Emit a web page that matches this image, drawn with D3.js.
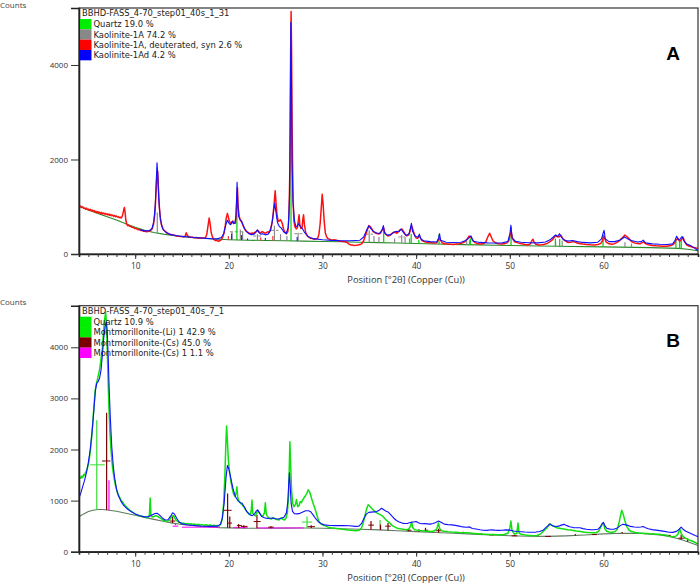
<!DOCTYPE html>
<html><head><meta charset="utf-8">
<script src="https://cdn.jsdelivr.net/npm/d3@7"></script>
<style>body{margin:0;background:#fff}svg{display:block}text{font-family:"Open Sans","Noto Sans",sans-serif}</style>
</head><body><svg id="c" width="700" height="583"></svg>
<script>
// ---------- DATA ----------
const xLabelTicks = [10, 20, 30, 40, 50, 60];
const yTicksA = [0, 2000, 4000];
const yTicksB = [0, 1000, 2000, 3000, 4000];
const titleA = "BBHD-FASS_4-70_step01_40s_1_31";
const titleB = "BBHD-FASS_4-70_step01_40s_7_1";
const legendA = ["Quartz 19.0 %", "Kaolinite-1A 74.2 %", "Kaolinite-1A, deuterated, syn 2.6 %", "Kaolinite-1Ad 4.2 %"];
const legendColorsA = ["#00ee00", "#888888", "#ff0000", "#0000ff"];
const legendB = ["Quartz 10.9 %", "Montmorillonite-(Li) 1 42.9 %", "Montmorillonite-(Cs) 45.0 %", "Montmorillonite-(Cs) 1 1.1 %"];
const legendColorsB = ["#00ee00", "#00ee00", "#7a0000", "#ff00ff"];

// Panel A: background, observed (red), calculated (blue)
const bgA = [[4,1010],[5,930],[6,860],[7,790],[8,720],[9,640],[10,565],[11,500],[12,455],[13,420],[14,392],[15,370],[16,352],[17,336],[18,322],[19,311],[20,302],[22,292],[24,286],[26,280],[28,272],[30,265],[32,258],[34,250],[36,240],[38,232],[40,222],[42,212],[45,198],[50,180],[55,165],[60,150],[65,135],[68,118],[69,100],[70.1,70]];
const obsA = [[4.0,1040],[4.1,1000],[4.2,1010],[4.3,985],[4.4,1000],[4.5,965],[4.6,975],[4.7,950],[4.8,970],[4.9,940],[5.0,950],[5.1,925],[5.2,945],[5.3,915],[5.4,930],[5.5,905],[5.6,920],[5.7,890],[5.8,905],[5.9,880],[6.0,900],[6.1,870],[6.2,885],[6.3,860],[6.4,880],[6.5,850],[6.6,865],[6.7,845],[6.8,860],[6.9,835],[7.0,850],[7.1,825],[7.2,845],[7.3,815],[7.4,835],[7.5,810],[7.6,825],[7.7,800],[7.8,815],[7.9,790],[8.0,805],[8.1,780],[8.2,790],[8.3,770],[8.4,780],[8.5,760],[8.6,790],[8.7,860],[8.78,940],[8.85,985],[8.92,880],[9.0,720],[9.1,630],[9.2,600],[9.3,610],[9.4,585],[9.5,590],[9.65,565],[9.8,560],[10.0,540],[10.15,535],[10.3,515],[10.45,520],[10.6,498],[10.75,500],[10.9,480],[11.05,485],[11.2,470],[11.35,478],[11.5,480],[11.65,500],[11.8,530],[11.95,620],[12.1,850],[12.2,1200],[12.3,1600],[12.4,1750],[12.48,1400],[12.58,1000],[12.7,720],[12.85,590],[13.0,520],[13.15,490],[13.3,460],[13.45,445],[13.6,425],[13.8,415],[14.0,400],[14.2,395],[14.4,380],[14.6,378],[14.8,368],[15.0,370],[15.2,362],[15.35,380],[15.45,450],[15.55,400],[15.7,365],[15.9,352],[16.1,355],[16.3,342],[16.5,348],[16.7,338],[16.9,342],[17.1,332],[17.3,338],[17.5,345],[17.65,420],[17.78,600],[17.9,760],[18.0,640],[18.12,450],[18.3,330],[18.45,300],[18.6,282],[18.75,290],[18.9,268],[19.05,280],[19.2,305],[19.35,360],[19.5,450],[19.62,600],[19.72,760],[19.85,860],[19.95,780],[20.05,700],[20.2,640],[20.3,660],[20.42,700],[20.55,660],[20.68,650],[20.78,800],[20.86,1150],[20.92,1400],[21.0,980],[21.1,800],[21.2,740],[21.3,700],[21.45,640],[21.6,560],[21.75,510],[21.9,480],[22.05,455],[22.2,440],[22.35,430],[22.5,445],[22.65,435],[22.8,460],[22.95,480],[23.1,500],[23.25,460],[23.4,450],[23.55,475],[23.7,460],[23.85,440],[24.0,450],[24.15,470],[24.3,460],[24.45,520],[24.6,640],[24.72,820],[24.85,1100],[24.95,1340],[25.05,1050],[25.15,820],[25.28,690],[25.4,700],[25.5,725],[25.6,700],[25.72,640],[25.85,520],[26.0,460],[26.15,430],[26.3,470],[26.42,800],[26.52,1800],[26.6,4200],[26.65,5130],[26.7,4300],[26.76,2600],[26.85,1200],[26.95,700],[27.05,580],[27.2,530],[27.32,560],[27.42,700],[27.5,830],[27.58,620],[27.7,540],[27.82,560],[27.92,760],[27.98,830],[28.06,640],[28.2,460],[28.35,390],[28.5,360],[28.7,335],[28.9,330],[29.1,312],[29.3,318],[29.5,335],[29.62,420],[29.75,640],[29.87,980],[29.97,1265],[30.07,1050],[30.18,700],[30.3,450],[30.45,360],[30.6,325],[30.8,310],[31.0,292],[31.2,300],[31.4,298],[31.6,285],[31.8,272],[32.0,270],[32.2,262],[32.4,258],[32.6,250],[32.8,215],[33.0,192],[33.2,188],[33.4,182],[33.6,186],[33.8,192],[34.0,200],[34.2,220],[34.4,280],[34.6,400],[34.8,520],[34.95,600],[35.1,580],[35.25,540],[35.4,480],[35.6,450],[35.8,432],[36.0,425],[36.2,445],[36.4,520],[36.52,560],[36.65,450],[36.8,410],[37.0,380],[37.2,395],[37.4,430],[37.6,460],[37.8,455],[37.95,440],[38.1,470],[38.3,510],[38.5,525],[38.7,460],[38.85,410],[39.0,385],[39.2,400],[39.35,480],[39.5,600],[39.65,520],[39.8,420],[40.0,340],[40.15,330],[40.3,380],[40.45,350],[40.6,290],[40.8,270],[41.0,252],[41.3,245],[41.6,240],[41.9,232],[42.2,240],[42.38,300],[42.5,335],[42.62,290],[42.8,232],[43.1,215],[43.4,210],[43.7,205],[44.0,200],[44.3,210],[44.6,215],[44.9,230],[45.2,260],[45.45,320],[45.65,380],[45.85,355],[46.05,290],[46.3,240],[46.6,215],[46.9,210],[47.2,220],[47.45,260],[47.65,360],[47.85,440],[48.02,360],[48.2,280],[48.5,232],[48.8,215],[49.1,210],[49.4,215],[49.7,235],[49.9,280],[50.05,420],[50.15,480],[50.28,330],[50.5,260],[50.8,240],[51.1,220],[51.4,210],[51.7,198],[52.0,195],[52.2,215],[52.38,290],[52.48,310],[52.6,250],[52.8,205],[53.1,192],[53.4,195],[53.7,205],[54.0,225],[54.3,260],[54.6,310],[54.85,385],[55.05,370],[55.25,360],[55.45,400],[55.65,330],[55.9,280],[56.2,245],[56.5,250],[56.8,262],[57.1,240],[57.4,222],[57.8,210],[58.2,200],[58.6,195],[59.0,192],[59.4,200],[59.7,220],[59.9,280],[60.02,380],[60.15,330],[60.3,250],[60.6,215],[60.9,205],[61.2,220],[61.5,250],[61.8,300],[62.05,350],[62.3,400],[62.5,370],[62.75,320],[63.0,265],[63.3,235],[63.6,220],[63.9,215],[64.1,235],[64.3,255],[64.5,220],[64.8,195],[65.2,182],[65.6,175],[66.0,170],[66.4,165],[66.8,162],[67.2,178],[67.5,210],[67.75,290],[67.95,330],[68.15,270],[68.35,310],[68.5,355],[68.7,250],[68.9,190],[69.2,165],[69.5,145],[69.8,132],[70.1,118]];
const calcA = [[10.5,515],[11.0,490],[11.5,492],[11.8,540],[12.0,700],[12.15,1050],[12.25,1550],[12.33,1930],[12.42,1650],[12.52,1150],[12.65,820],[12.8,620],[13.0,510],[13.4,440],[13.8,410],[14.5,385],[15,372],[16,353],[17,338],[18,325],[18.8,320],[19.2,350],[19.45,430],[19.65,600],[19.85,715],[20.05,640],[20.2,620],[20.35,690],[20.5,640],[20.65,660],[20.75,780],[20.82,1150],[20.88,1520],[20.95,1100],[21.05,800],[21.2,720],[21.35,700],[21.55,600],[21.8,490],[22.1,435],[22.4,410],[22.7,420],[22.9,470],[23.05,510],[23.2,460],[23.4,420],[23.6,430],[23.9,405],[24.2,420],[24.45,500],[24.65,700],[24.8,940],[24.9,1075],[25.02,900],[25.2,660],[25.4,580],[25.6,550],[25.85,470],[26.1,430],[26.35,560],[26.48,1200],[26.55,2600],[26.62,4900],[26.68,3900],[26.75,2000],[26.85,1100],[27.0,720],[27.15,580],[27.3,590],[27.45,640],[27.65,580],[27.85,540],[28.1,450],[28.5,365],[29,325],[30,300],[31,288],[32,282],[33,282],[34,292],[34.4,360],[34.7,500],[34.95,594],[35.2,530],[35.5,470],[35.8,445],[36.1,432],[36.35,500],[36.5,600],[36.62,450],[36.9,400],[37.3,410],[37.6,460],[37.9,480],[38.15,470],[38.4,530],[38.65,450],[38.95,390],[39.25,430],[39.4,560],[39.5,650],[39.62,480],[39.9,370],[40.2,360],[40.35,420],[40.5,320],[40.8,280],[41.5,262],[42.2,255],[42.4,340],[42.5,430],[42.62,290],[43.2,250],[44,242],[44.8,250],[45.3,285],[45.6,330],[45.85,385],[46.1,270],[46.8,245],[47.6,235],[48.4,232],[49.2,235],[49.8,265],[50.02,430],[50.12,610],[50.25,340],[50.6,270],[51.2,248],[52.0,238],[53.0,236],[53.8,255],[54.3,300],[54.65,360],[54.9,405],[55.1,370],[55.3,430],[55.5,360],[55.75,300],[56.2,272],[56.7,285],[57.2,262],[57.8,245],[58.6,235],[59.4,250],[59.8,320],[59.98,450],[60.07,500],[60.2,320],[60.6,262],[61.2,262],[61.8,295],[62.25,360],[62.6,320],[63.0,285],[63.6,255],[64.05,262],[64.25,295],[64.5,235],[65.2,215],[66.0,205],[66.8,200],[67.4,215],[67.65,290],[67.82,375],[68.0,300],[68.2,320],[68.4,370],[68.6,280],[68.9,210],[69.3,180],[69.7,130],[70.1,70]];
// stick patterns A: [position, top count]
const sticksQuartzA = [[20.86,1080],[26.64,3050],[36.54,500],[39.47,430],[40.29,300],[42.45,420],[45.79,330],[50.14,570],[54.87,330],[55.33,320],[59.96,410],[67.74,280],[68.14,300],[68.31,290]];
const sticksKaolA = [[12.36,880],[20.34,470],[21.23,520],[21.47,480],[23.05,420],[24.87,600],[25.52,420],[26.2,380],[27.4,450],[34.99,500],[35.5,380],[36.03,360],[37.7,330],[38.46,400],[38.82,360],[39.3,330],[45.4,280],[45.7,290],[54.9,260],[55.6,280],[62.3,250],[63.0,220]];
const sticksKaolAdA = [[20.3,430],[21.36,400],[22.0,330],[23.9,340],[27.3,360]];
const sticksDeutA = [[19.95,380],[23.4,350],[24.7,380]];
const crossA = [[20.1,21.6,470],[24.5,25.3,500],[27.0,27.9,430],[34.6,35.4,420],[38.1,38.8,360],[22.6,23.5,380]];

// Panel B: background, observed (green), calculated (blue)
const bgB = [[4,685],[4.5,740],[5,785],[5.5,812],[6,825],[6.5,825],[7,815],[8,790],[9,752],[10,712],[11,672],[12,632],[13,595],[14,560],[15,532],[16,512],[17,496],[18,483],[19,472],[20,466],[22,460],[24,460],[26,462],[28,465],[30,460],[32,450],[34,440],[36,428],[38,410],[40,392],[42,376],[44,360],[46,344],[48,326],[50,312],[52,302],[54,300],[56,310],[58,328],[60,348],[62,362],[64,358],[66,330],[67,300],[68,255],[69,195],[70.1,120]];
const obsB = [[4.0,1400],[4.1,1460],[4.2,1440],[4.3,1480],[4.4,1450],[4.5,1510],[4.6,1490],[4.7,1550],[4.8,1580],[4.9,1640],[5.0,1700],[5.1,1820],[5.2,1950],[5.3,2150],[5.4,2350],[5.5,2600],[5.6,2850],[5.7,3100],[5.8,3250],[5.9,3320],[6.0,3400],[6.1,3480],[6.2,3560],[6.3,3700],[6.4,3850],[6.5,4000],[6.6,4250],[6.7,4480],[6.78,4600],[6.85,4680],[6.92,4500],[7.0,4050],[7.1,3400],[7.2,2800],[7.3,2350],[7.4,2050],[7.5,1800],[7.6,1620],[7.7,1500],[7.8,1380],[7.9,1300],[8.0,1220],[8.1,1160],[8.2,1110],[8.3,1080],[8.4,1040],[8.5,1000],[8.6,985],[8.7,960],[8.8,930],[8.9,905],[9.0,890],[9.1,870],[9.2,850],[9.3,835],[9.4,815],[9.5,805],[9.6,790],[9.7,770],[9.8,765],[9.9,745],[10.0,740],[10.2,720],[10.4,705],[10.6,700],[10.8,690],[11.0,680],[11.2,668],[11.4,675],[11.52,720],[11.6,1050],[11.68,720],[11.8,680],[12.0,690],[12.2,705],[12.4,690],[12.6,665],[12.8,640],[13.0,615],[13.2,600],[13.4,592],[13.6,610],[13.8,660],[13.95,700],[14.1,705],[14.25,650],[14.4,610],[14.6,582],[14.8,570],[15.0,560],[15.2,555],[15.4,548],[15.6,552],[15.8,540],[16.0,545],[16.2,535],[16.4,540],[16.6,528],[16.8,535],[17.0,522],[17.2,530],[17.4,518],[17.6,528],[17.8,515],[18.0,522],[18.2,510],[18.4,518],[18.6,505],[18.8,512],[19.0,505],[19.15,540],[19.3,650],[19.45,950],[19.58,1500],[19.68,2100],[19.76,2460],[19.84,2200],[19.95,1800],[20.05,1600],[20.2,1400],[20.35,1250],[20.5,1130],[20.65,1080],[20.78,1150],[20.86,1270],[20.95,1060],[21.1,980],[21.25,950],[21.4,920],[21.55,890],[21.7,850],[21.85,800],[22.0,770],[22.15,740],[22.3,725],[22.4,820],[22.47,1010],[22.55,760],[22.7,715],[22.85,700],[23.0,770],[23.1,810],[23.25,760],[23.45,710],[23.65,700],[23.8,760],[23.9,960],[24.0,740],[24.15,680],[24.35,650],[24.55,640],[24.75,665],[24.95,640],[25.15,630],[25.35,620],[25.55,660],[25.75,640],[25.95,620],[26.1,660],[26.25,760],[26.38,1100],[26.46,1700],[26.52,2150],[26.6,1700],[26.7,1200],[26.82,950],[26.95,880],[27.1,920],[27.22,1020],[27.35,880],[27.5,900],[27.62,980],[27.75,960],[27.9,1020],[28.05,1060],[28.2,1100],[28.35,1150],[28.47,1210],[28.6,1180],[28.75,1100],[28.9,1000],[29.05,920],[29.2,840],[29.4,720],[29.6,600],[29.8,550],[30.0,525],[30.3,505],[30.6,480],[30.9,470],[31.2,462],[31.5,455],[31.8,448],[32.1,440],[32.4,435],[32.7,425],[33.0,420],[33.3,415],[33.6,412],[33.9,418],[34.15,460],[34.35,560],[34.55,720],[34.75,860],[34.88,920],[35.0,900],[35.2,860],[35.4,820],[35.6,790],[35.8,760],[36.0,740],[36.2,720],[36.4,700],[36.6,660],[36.8,620],[37.0,590],[37.2,560],[37.4,520],[37.6,495],[37.8,475],[38.0,460],[38.3,448],[38.6,440],[38.9,430],[39.2,440],[39.4,500],[39.52,580],[39.64,470],[39.85,430],[40.1,422],[40.4,415],[40.7,410],[41.0,402],[41.3,398],[41.6,395],[41.9,405],[42.2,440],[42.38,560],[42.52,450],[42.75,410],[43.0,402],[43.4,392],[43.8,385],[44.2,380],[44.6,375],[45.0,372],[45.4,370],[45.8,365],[46.2,358],[46.6,352],[47.0,346],[47.4,342],[47.8,338],[48.2,335],[48.6,330],[49.0,330],[49.4,335],[49.8,360],[50.02,470],[50.12,600],[50.24,420],[50.5,345],[50.75,360],[50.88,560],[51.0,360],[51.3,335],[51.7,325],[52.1,318],[52.5,310],[52.9,318],[53.3,350],[53.7,420],[54.0,470],[54.25,550],[54.45,520],[54.7,495],[55.0,470],[55.3,460],[55.6,450],[55.9,440],[56.2,430],[56.5,425],[56.8,415],[57.1,405],[57.4,398],[57.7,390],[58.0,382],[58.4,375],[58.8,370],[59.2,372],[59.5,400],[59.7,480],[59.85,540],[60.0,560],[60.15,450],[60.35,400],[60.6,385],[60.9,380],[61.2,390],[61.45,430],[61.65,550],[61.82,700],[61.95,810],[62.1,740],[62.3,600],[62.5,490],[62.75,420],[63.0,395],[63.4,375],[63.8,365],[64.2,360],[64.6,356],[65.0,350],[65.4,346],[65.8,340],[66.2,334],[66.6,325],[67.0,305],[67.4,292],[67.75,305],[67.95,340],[68.15,450],[68.3,360],[68.5,300],[68.8,262],[69.1,235],[69.4,215],[69.7,190],[70.1,150]];
const calcB = [[4.0,1050],[4.2,1150],[4.4,1280],[4.6,1400],[4.8,1550],[5.0,1750],[5.2,2000],[5.4,2350],[5.6,2800],[5.75,3150],[5.9,3300],[6.05,3330],[6.2,3400],[6.35,3550],[6.5,3850],[6.65,4200],[6.8,4420],[6.92,4500],[7.02,4300],[7.12,3800],[7.22,3200],[7.35,2600],[7.5,2050],[7.65,1700],[7.8,1450],[8.0,1230],[8.2,1100],[8.5,980],[8.8,900],[9.2,830],[9.6,780],[10.0,740],[10.5,702],[11.0,682],[11.4,685],[11.8,720],[12.1,748],[12.35,752],[12.6,715],[12.9,660],[13.2,620],[13.5,625],[13.8,700],[14.0,762],[14.2,735],[14.45,650],[14.7,580],[15.0,545],[15.5,528],[16,518],[17,502],[18,495],[18.8,500],[19.1,540],[19.3,650],[19.5,950],[19.7,1450],[19.85,1690],[20.0,1620],[20.2,1450],[20.45,1230],[20.7,1080],[20.95,1000],[21.2,965],[21.4,950],[21.65,880],[21.9,790],[22.2,730],[22.5,705],[22.75,740],[22.95,800],[23.07,818],[23.25,770],[23.5,690],[23.8,665],[24.1,650],[24.4,655],[24.7,660],[25.0,645],[25.3,640],[25.6,655],[25.9,680],[26.15,760],[26.3,980],[26.4,1350],[26.47,1546],[26.55,1300],[26.65,950],[26.8,790],[27.0,745],[27.3,740],[27.6,750],[27.9,775],[28.2,800],[28.5,800],[28.75,780],[29.0,720],[29.3,640],[29.6,580],[29.9,545],[30.2,525],[30.8,512],[31.5,510],[32.2,510],[32.9,508],[33.5,495],[33.9,500],[34.2,560],[34.45,660],[34.7,740],[34.95,770],[35.2,775],[35.5,780],[35.8,785],[36.05,810],[36.3,850],[36.55,820],[36.8,790],[37.05,770],[37.3,720],[37.6,660],[37.9,610],[38.2,580],[38.5,560],[38.8,552],[39.1,555],[39.4,570],[39.7,580],[40.0,590],[40.3,560],[40.6,548],[40.9,550],[41.2,545],[41.5,540],[41.8,552],[42.1,570],[42.4,600],[42.7,570],[43.0,540],[43.4,530],[43.8,525],[44.2,515],[44.6,500],[45.0,485],[45.4,478],[45.7,485],[46.0,455],[46.4,445],[46.8,430],[47.2,420],[47.6,418],[48.0,428],[48.4,422],[48.8,418],[49.2,420],[49.6,428],[50.0,422],[50.4,405],[50.8,395],[51.2,390],[51.6,385],[52.0,382],[52.4,380],[52.8,384],[53.2,395],[53.6,425],[53.9,480],[54.15,520],[54.35,535],[54.6,505],[54.9,492],[55.2,500],[55.5,520],[55.8,535],[56.1,510],[56.4,490],[56.8,472],[57.2,470],[57.5,468],[57.8,452],[58.2,440],[58.6,432],[59.0,430],[59.4,438],[59.7,490],[59.88,550],[60.0,575],[60.15,510],[60.35,460],[60.7,442],[61.1,440],[61.5,465],[61.8,510],[62.05,535],[62.3,530],[62.6,515],[62.9,495],[63.3,482],[63.7,478],[64.0,482],[64.25,492],[64.5,470],[64.8,450],[65.2,432],[65.6,422],[66.0,412],[66.5,398],[67.0,382],[67.4,378],[67.8,398],[68.1,440],[68.3,480],[68.5,440],[68.8,400],[69.1,375],[69.5,340],[69.8,315],[70.1,295]];
// stick patterns B: [position, top count]
const sticksLiB = [[5.9,2570],[28.35,690],[36.15,620]];
const crossLiB = [[5.2,6.75,1700],[27.8,28.9,580]];
const sticksCsB = [[6.95,2720],[14.0,700],[19.87,1140],[20.1,690],[21.05,540],[21.6,520],[23.0,720],[24.5,500],[28.8,520],[35.18,600],[36.2,530],[37.0,560],[39.2,450],[40.3,440],[41.0,470],[42.4,450],[45.0,390],[47.0,360],[50.5,330],[53.0,320],[57.0,345],[62.0,385],[66.0,350],[68.3,330],[69.0,260]];
const crossCsB = [[6.45,7.35,1775],[13.7,14.3,600],[19.45,20.3,810],[19.9,20.35,560],[20.85,21.4,510],[21.3,22.0,495],[22.65,23.4,590],[24.2,24.8,480],[28.4,29.2,490],[34.9,35.5,520],[36.7,37.3,500],[39.0,39.5,420],[40.9,41.3,420],[42.1,42.7,410],[47.8,48.3,330],[50.2,50.8,310],[53.8,54.4,300],[58.8,59.3,335],[66.5,67.2,320],[68.0,68.7,265]];
const sticksCs1B = [[7.2,1400],[14.3,520],[21.2,480],[24.0,470]];
const crossCs1B = [[14.0,14.6,500],[15.0,19.0,480],[20.5,22.0,470],[23.0,28.0,465]];

// ---------- DRAWING ----------
const svg = d3.select("#c");
const panels = [
  {top: 8, bottom: 254, yMax: 5206, yTicks: yTicksA, letter: "A", letterY: 60, countsY: 8.3, title: titleA, leg: legendA, legC: legendColorsA,
   bg: bgA, bgColor: "#2a8a2a", obs: obsA, obsColor: "#ff1010", calc: calcA,
   sticks: [[sticksKaolA,"#8a8a8a"],[sticksDeutA,"#ff3030"],[sticksKaolAdA,"#2020ff"],[sticksQuartzA,"#00cc00"]],
   crosses: [[crossA,"#8a8a8a",true]]},
  {top: 305.7, bottom: 551.7, yMax: 4814, yTicks: yTicksB, letter: "B", letterY: 346.5, countsY: 304.5, title: titleB, leg: legendB, legC: legendColorsB,
   bg: bgB, bgColor: "#5f7a5f", obs: obsB, obsColor: "#10e010", calc: calcB,
   sticks: [[sticksCs1B,"#ff00ff"],[sticksLiB,"#33dd33"],[sticksCsB,"#7a0000"]],
   crosses: [[crossCs1B,"#ff00ff",false],[crossLiB,"#33dd33",false],[crossCsB,"#7a0000",false]]}
];
const x = d3.scaleLinear().domain([4, 70.1]).range([79, 698]);
const legFont = '"DejaVu Sans", sans-serif';

panels.forEach((p, i) => {
  const y = d3.scaleLinear().domain([0, p.yMax]).range([p.bottom, p.top]);
  const g = svg.append("g");
  const clipId = "clip" + i;
  svg.append("clipPath").attr("id", clipId).append("rect")
    .attr("x", x.range()[0]).attr("y", p.top).attr("width", x.range()[1] - x.range()[0]).attr("height", p.bottom - p.top);
  const bgInterp = d3.scaleLinear().domain(p.bg.map(d => d[0])).range(p.bg.map(d => d[1]));
  const plot = g.append("g").attr("clip-path", `url(#${clipId})`);
  const line = d3.line().x(d => x(d[0])).y(d => y(d[1]));

  plot.append("path").datum(p.bg).attr("d", line).attr("fill", "none").attr("stroke", p.bgColor).attr("stroke-width", 1.1);
  p.crosses.forEach(([arr, col, dashed]) => {
    plot.selectAll(null).data(arr).join("line")
      .attr("x1", d => x(d[0])).attr("x2", d => x(d[1])).attr("y1", d => y(d[2])).attr("y2", d => y(d[2]))
      .attr("stroke", col).attr("stroke-width", 1).attr("stroke-dasharray", dashed ? "3,2" : null);
  });
  p.sticks.forEach(([arr, col]) => {
    plot.selectAll(null).data(arr).join("line")
      .attr("x1", d => x(d[0])).attr("x2", d => x(d[0]))
      .attr("y1", d => y(bgInterp(d[0]))).attr("y2", d => y(d[1]))
      .attr("stroke", col).attr("stroke-width", 1.2);
  });
  plot.append("path").datum(p.obs).attr("d", line).attr("fill", "none").attr("stroke", p.obsColor).attr("stroke-width", 1.5).attr("stroke-linejoin", "round");
  plot.append("path").datum(p.calc).attr("d", line).attr("fill", "none").attr("stroke", "#1010ff").attr("stroke-width", 1.1).attr("stroke-linejoin", "round");

  // frame
  g.append("rect").attr("x", x.range()[0]).attr("y", p.top).attr("width", x.range()[1] - x.range()[0]).attr("height", p.bottom - p.top)
    .attr("fill", "none").attr("stroke", "#333").attr("stroke-width", 1.2);

  // y axis
  const ya = g.append("g").attr("transform", `translate(${x.range()[0]},0)`)
    .call(d3.axisLeft(y).tickValues(p.yTicks).tickSize(8).tickPadding(3).tickFormat(d3.format("d")));
  ya.select(".domain").attr("stroke", "#222").attr("stroke-width", 1.6);
  ya.selectAll(".tick line").attr("stroke", "#333");
  ya.selectAll("text").attr("font-size", 8).attr("fill", "#333").style("font-family", '"Open Sans", sans-serif');

  // x axis minor + major
  const xa = g.append("g").attr("transform", `translate(0,${p.bottom})`)
    .call(d3.axisBottom(x).tickValues(d3.range(5, 70)).tickSize(3).tickFormat(""));
  xa.select(".domain").attr("stroke", "#222").attr("stroke-width", 1.6);
  xa.selectAll(".tick line").attr("stroke", "#333");
  const xm = g.append("g").attr("transform", `translate(0,${p.bottom})`)
    .call(d3.axisBottom(x).tickValues(xLabelTicks).tickSize(5).tickPadding(4).tickFormat(d3.format("d")));
  xm.select(".domain").remove();
  xm.selectAll(".tick line").attr("stroke", "#333");
  xm.selectAll("text").attr("font-size", 8.3).attr("fill", "#333").style("font-family", '"Open Sans", sans-serif');

  g.append("text").attr("x", 406).attr("y", p.bottom + 29).attr("text-anchor", "middle").attr("font-size", 9.3).attr("fill", "#333")
    .text("Position [°2θ] (Copper (Cu))");
  g.append("text").attr("x", 0).attr("y", p.countsY).attr("font-size", 8).attr("fill", "#444").text("Counts");

  // letter
  g.append("text").attr("x", 673).attr("y", p.letterY).attr("text-anchor", "middle").attr("font-size", 19).attr("font-weight", "bold")
    .attr("fill", "#000").style("font-family", '"Liberation Sans", Arial, sans-serif').text(p.letter);

  // legend
  const lg = g.append("g").attr("transform", `translate(80,${p.top})`);
  lg.append("text").attr("x", 2).attr("y", 8.4).attr("font-size", 8.4).attr("fill", "#222").style("font-family", legFont).text(p.title);
  p.leg.forEach((t, k) => {
    lg.append("rect").attr("x", 0).attr("y", 11 + k * 10.33).attr("width", 11.5).attr("height", 10.33).attr("fill", p.legC[k]);
    lg.append("text").attr("x", 13.5).attr("y", 19.3 + k * 10.33).attr("font-size", 8.4).attr("fill", "#222").style("font-family", legFont).text(t);
  });
});
</script></body></html>
